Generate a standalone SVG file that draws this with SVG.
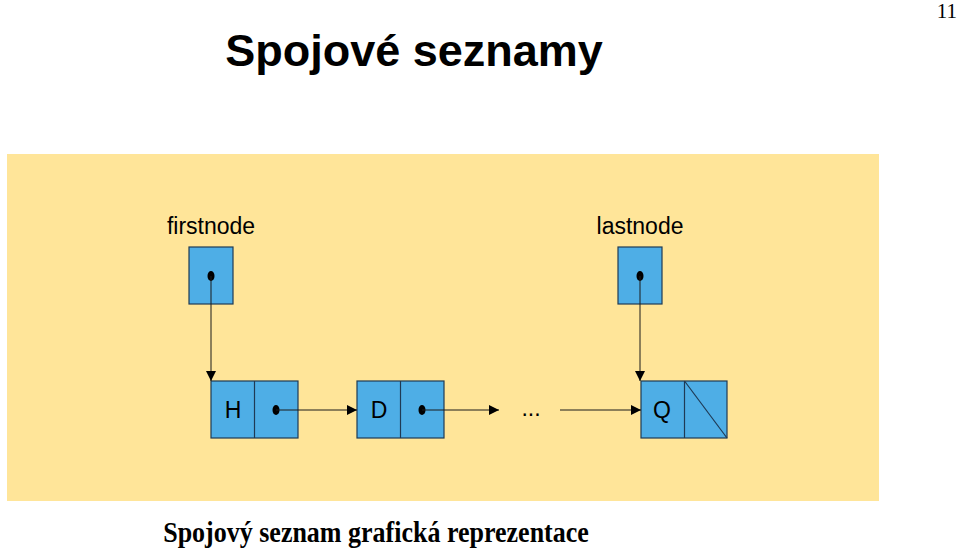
<svg xmlns="http://www.w3.org/2000/svg" width="960" height="550" viewBox="0 0 960 550">
<style>
.box{fill:#4eaee6;stroke:#1f3a55;stroke-width:1.2}
.ln{stroke:#1a1a1a;stroke-width:1;fill:none}
.sans{font-family:"Liberation Sans",Arial,sans-serif;fill:#000}
.serif{font-family:"Liberation Serif","Times New Roman",serif;fill:#000}
.lbl{font-size:23px}
</style>
<defs>
<marker id="ah" viewBox="0 0 10 10" refX="10" refY="5" markerWidth="10" markerHeight="10" markerUnits="userSpaceOnUse" orient="auto">
<path d="M0,0 L10,5 L0,10 z" fill="#000"/>
</marker>
</defs>
<rect width="960" height="550" fill="#fff"/>
<text class="serif" x="957" y="18" font-size="21" text-anchor="end">11</text>
<text class="sans" x="414" y="66" font-size="45" font-weight="bold" text-anchor="middle">Spojové seznamy</text>
<rect x="7" y="154" width="872" height="347" fill="#ffe599"/>
<g id="firstnode">
<text class="sans" x="211" y="234" font-size="23" text-anchor="middle">firstnode</text>
<rect class="box" x="189" y="247" width="44" height="57"/>
<ellipse cx="211" cy="276" rx="3.5" ry="5" fill="#000"/>
</g>
<g id="lastnode">
<text class="sans" x="640" y="234" font-size="23" text-anchor="middle">lastnode</text>
<rect class="box" x="618" y="247" width="44" height="57"/>
<ellipse cx="640" cy="276" rx="3.5" ry="5" fill="#000"/>
</g>
<g id="nodeH">
<rect class="box" x="211" y="381" width="87" height="57"/>
<line class="box" x1="254.5" y1="381" x2="254.5" y2="438"/>
<text class="sans lbl" x="233" y="418" text-anchor="middle">H</text>
<ellipse cx="276" cy="410" rx="3.5" ry="5" fill="#000"/>
</g>
<g id="nodeD">
<rect class="box" x="357" y="381" width="87" height="57"/>
<line class="box" x1="400.5" y1="381" x2="400.5" y2="438"/>
<text class="sans lbl" x="379" y="418" text-anchor="middle">D</text>
<ellipse cx="422" cy="410" rx="3.5" ry="5" fill="#000"/>
</g>
<g id="ellipsis">
<text class="sans" x="531" y="416" font-size="23" text-anchor="middle">...</text>
</g>
<g id="nodeQ">
<rect class="box" x="641" y="381" width="86" height="57"/>
<line class="box" x1="684.5" y1="381" x2="684.5" y2="438"/>
<line class="box" x1="684.5" y1="381" x2="727" y2="438"/>
<text class="sans lbl" x="662" y="418" text-anchor="middle">Q</text>
</g>
<g id="connectors">
<line class="ln" x1="211" y1="276" x2="211" y2="381" marker-end="url(#ah)"/>
<line class="ln" x1="640" y1="276" x2="640" y2="381" marker-end="url(#ah)"/>
<line class="ln" x1="276" y1="410" x2="357" y2="410" marker-end="url(#ah)"/>
<line class="ln" x1="422" y1="410" x2="499" y2="410" marker-end="url(#ah)"/>
<line class="ln" x1="560" y1="410" x2="641" y2="410" marker-end="url(#ah)"/>
</g>
<text class="serif" transform="translate(376,542) scale(1,1.12)" x="0" y="0" font-size="26" font-weight="bold" text-anchor="middle">Spojový seznam grafická reprezentace</text>
</svg>
